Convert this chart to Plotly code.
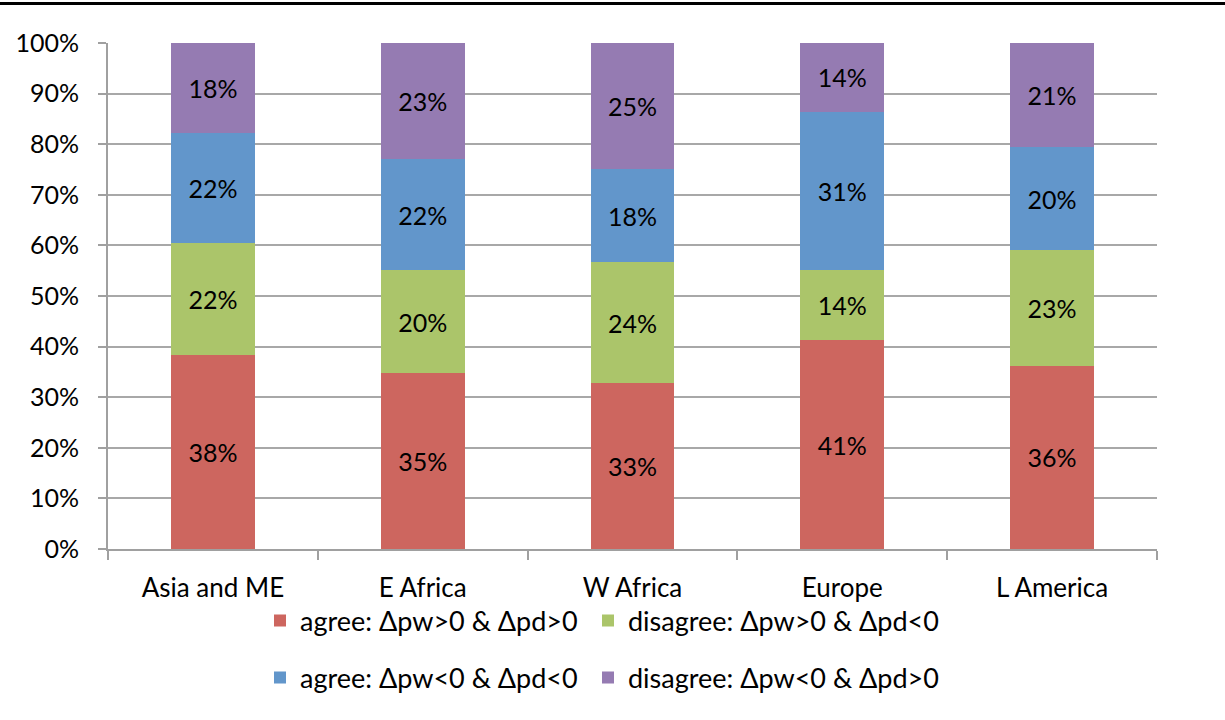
import plotly.graph_objects as go

categories = ["Asia and ME", "E Africa", "W Africa", "Europe", "L America"]
agree_pos = [38.3, 34.8, 32.8, 41.3, 36.2]
disagree_pos_neg = [22.2, 20.3, 23.9, 13.8, 22.9]
agree_neg = [21.7, 22.0, 18.4, 31.3, 20.3]
disagree_neg_pos = [17.8, 22.9, 24.9, 13.6, 20.6]

series_names = [
    "agree: Δpw>0 & Δpd>0",
    "disagree: Δpw>0 & Δpd<0",
    "agree: Δpw<0 & Δpd<0",
    "disagree: Δpw<0 & Δpd>0",
]
series_values = [agree_pos, disagree_pos_neg, agree_neg, disagree_neg_pos]
colors = ["#CD665F", "#ABC56A", "#6296CB", "#957BB2"]
legend_ids = ["legend", "legend2", "legend3", "legend4"]

FONT = "Lato"
FS = 25
fig = go.Figure()
for name, vals, col, lg in zip(series_names, series_values, colors, legend_ids):
    fig.add_trace(go.Bar(
        x=categories, y=vals, name=name,
        marker=dict(color=col, line=dict(width=0)),
        texttemplate="%{y:.0f}%", textposition="inside",
        insidetextanchor="middle",
        textfont=dict(color="black", size=FS, family=FONT),
        legend=lg, showlegend=True,
    ))

W, H = 1225, 720
L, R, T, B = 108, 68, 43, 171
pw, ph = W - L - R, H - T - B

legend_common = dict(
    orientation="h", xanchor="left", yanchor="middle",
    font=dict(size=27, family=FONT),
    itemwidth=30, tracegroupgap=0, traceorder="normal",
    bgcolor="rgba(0,0,0,0)",
)
col_x = [(260 - L) / pw, (588 - L) / pw]
row_y = [(549 - 621) / ph, (549 - 678) / ph]

fig.update_layout(
    width=W, height=H, showlegend=True,
    barmode="stack", bargap=0.6,
    plot_bgcolor="white", paper_bgcolor="white",
    margin=dict(l=L, r=R, t=T, b=B),
    font=dict(family=FONT, size=FS, color="black"),
    xaxis=dict(
        showline=True, linecolor="#A0A0A0", linewidth=2,
        ticks="outside", tickson="boundaries", ticklen=9, tickcolor="#A0A0A0", tickwidth=2,
        tickfont=dict(size=26, family=FONT), showgrid=False,
        ticklabelstandoff=15,
    ),
    yaxis=dict(
        range=[0, 100], dtick=10, ticksuffix="%",
        showline=True, linecolor="#A0A0A0", linewidth=2,
        ticks="outside", ticklen=8, tickcolor="#A0A0A0", tickwidth=2,
        showgrid=True, gridcolor="#A8A8A8", gridwidth=1.5,
        tickfont=dict(size=FS, family=FONT), zeroline=False,
        ticklabelstandoff=14,
    ),
    legend=dict(x=col_x[0], y=row_y[0], **legend_common),
    legend2=dict(x=col_x[1], y=row_y[0], **legend_common),
    legend3=dict(x=col_x[0], y=row_y[1], **legend_common),
    legend4=dict(x=col_x[1], y=row_y[1], **legend_common),
    shapes=[dict(
        type="line", xref="paper", yref="paper",
        x0=-L / pw, x1=(W - L) / pw,
        y0=(549 - 3.5) / ph, y1=(549 - 3.5) / ph,
        line=dict(color="black", width=3),
    )],
)

fig.write_html("out.html", config={"displayModeBar": False},
               post_script="document.body.style.margin='0';")
